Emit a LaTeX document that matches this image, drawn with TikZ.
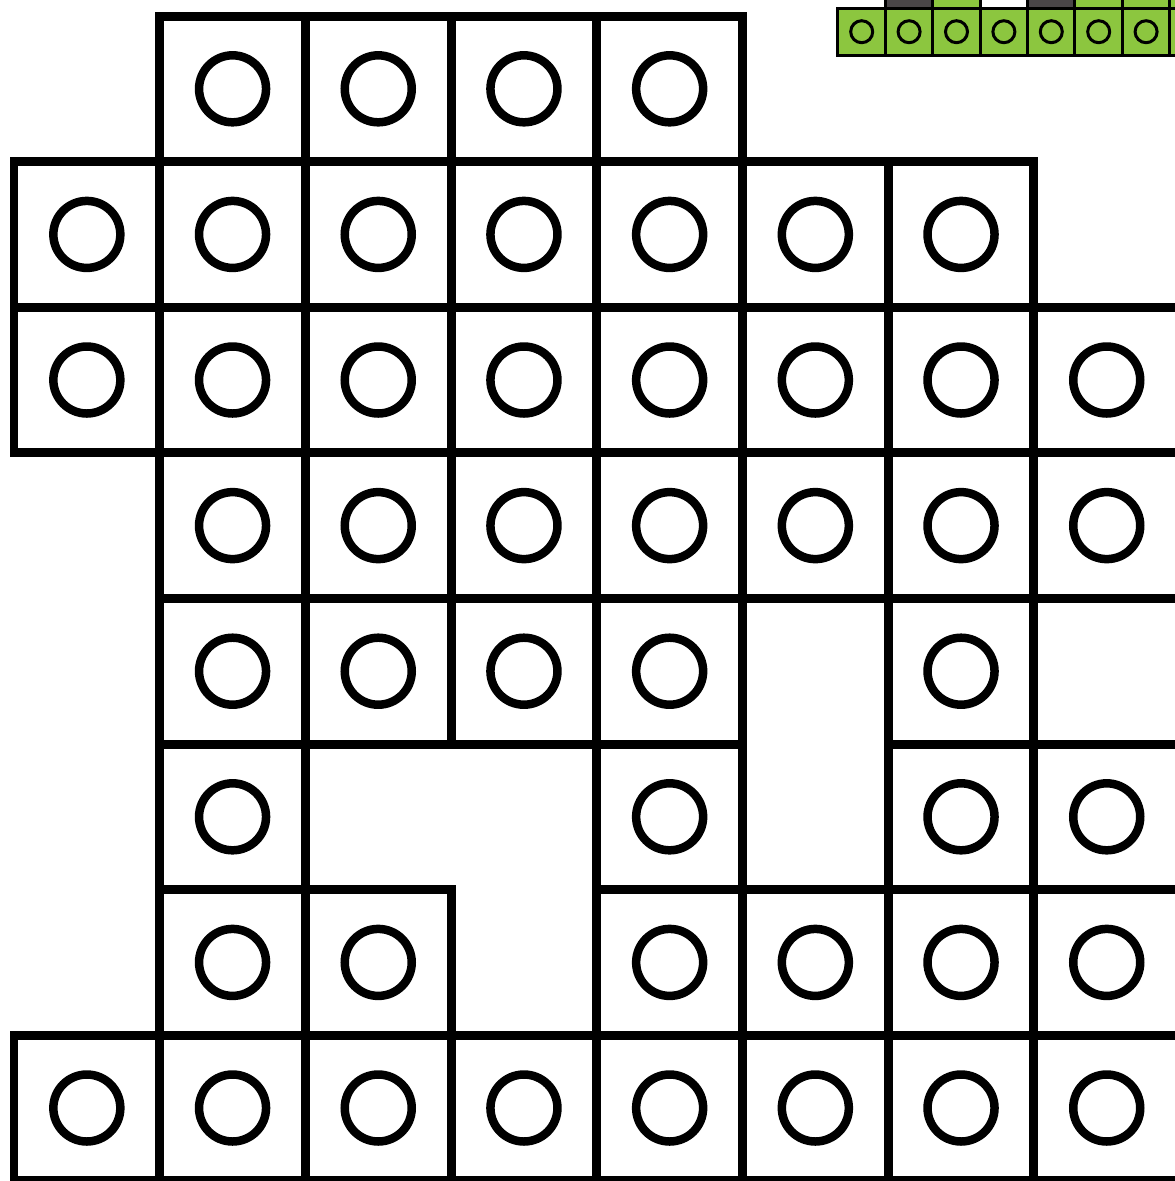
\documentclass[tikz,border=0pt]{standalone}
\usetikzlibrary{calc}
\definecolor{Ink}{HTML}{000000}
\definecolor{Lime}{HTML}{8CC63F}
\definecolor{Slate}{HTML}{4A4648}

\begin{document}
\begin{tikzpicture}[x=0.1mm,y=-0.1mm,
    cellbox/.style={draw=Ink,line width=.9mm,fill=white},
    peg/.style={draw=Ink,line width=.85mm},
    minibox/.style={draw=Ink,line width=.3mm},
    minipeg/.style={draw=Ink,line width=.3mm}]
  \useasboundingbox (0,0) rectangle (1175,1181);
  \clip (0,0) rectangle (1175,1181);
  \fill[white] (0,0) rectangle (1175,1181);

  % Large board: row index, then the occupied columns of that row.
  \foreach \r/\cols in {0/{1,2,3,4},1/{0,...,6},2/{0,...,7},3/{1,...,7},
                        4/{1,2,3,4,6},5/{1,4,6,7},6/{1,2,4,5,6,7},7/{0,...,7}} {
    \foreach \c in \cols {
      \draw[cellbox] ({14+145.7*\c},{16+145.6*\r}) rectangle +(145.7,145.6);
      \draw[peg] ({14+145.7*(\c+.5)},{16+145.6*(\r+.5)}) circle (3.35mm);
    }
  }

  % Small green strip, top right, with the cut row above it.
  \foreach \k/\col in {1/Slate,2/Lime,3/white,4/Slate,5/Lime,6/Lime,7/Lime}
    \draw[minibox,fill=\col] ({838+47.4*\k},-39.4) rectangle +(47.4,47.4);
  \foreach \k in {0,...,7} {
    \draw[minibox,fill=Lime] ({838+47.4*\k},8) rectangle +(47.4,47.4);
    \draw[minipeg] ({838+47.4*(\k+.5)},31.7) circle (1.1mm);
  }
\end{tikzpicture}
\end{document}
